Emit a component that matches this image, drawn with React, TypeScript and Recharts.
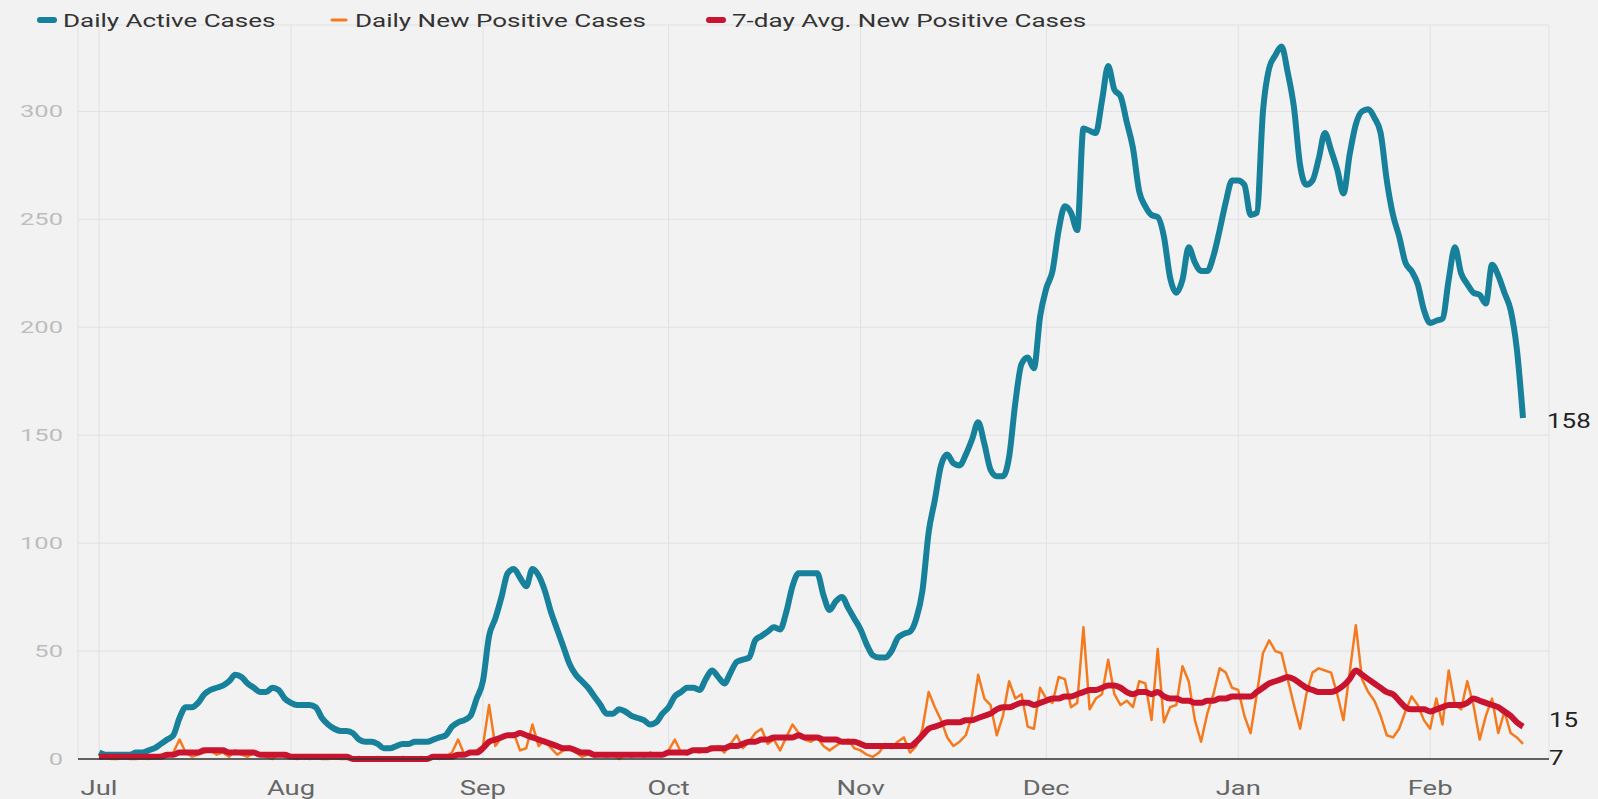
import React from 'react';
import { LineChart, Line, XAxis, YAxis, CartesianGrid, LabelList } from 'recharts';

// day 0 = Jul 1
const MONTH_TICKS = [0, 31, 62, 92, 123, 153, 184, 215];
const MONTH_LABELS = ['Jul', 'Aug', 'Sep', 'Oct', 'Nov', 'Dec', 'Jan', 'Feb'];
const Y_TICKS = [0, 50, 100, 150, 200, 250, 300];

const ACTIVE = [
  // Jul
  3, 2, 2, 2, 2, 2, 3, 3, 4, 5, 7, 9, 11, 19, 24, 24, 26, 30, 32, 33, 34, 36, 39, 38, 35, 33, 31, 31, 33, 32, 28,
  // Aug
  26, 25, 25, 25, 24, 19, 16, 14, 13, 13, 12, 9, 8, 8, 7, 5, 5, 6, 7, 7, 8, 8, 8, 9, 10, 11, 15, 17, 18, 20, 28,
  // Sep
  36, 57, 65, 75, 86, 88, 84, 80, 88, 85, 78, 68, 60, 52, 44, 39, 36, 33, 29, 25, 21, 21, 23, 22, 20, 19, 18, 16, 17, 21,
  // Oct
  24, 29, 31, 33, 33, 32, 37, 41, 38, 35, 40, 45, 46, 47, 55, 57, 59, 61, 60, 68, 80, 86, 86, 86, 86, 76, 69, 73, 75, 70, 65,
  // Nov
  60, 53, 48, 47, 47, 50, 56, 58, 59, 65, 78, 105, 120, 136, 141, 137, 136, 141, 148, 156, 146, 134, 131, 131, 140, 165, 183, 186, 181, 205,
  // Dec
  218, 226, 245, 256, 253, 245, 292, 291, 290, 305, 321, 310, 307, 295, 283, 263, 256, 252, 251, 242, 223, 216, 222, 237, 230, 226, 226, 233, 245, 258, 268,
  // Jan
  268, 266, 252, 253, 300, 320, 326, 330, 318, 302, 275, 266, 268, 278, 290, 282, 273, 262, 280, 294, 300, 301, 297, 290, 268, 252, 242, 230, 226, 220, 208,
  // Feb
  202, 203, 204, 222, 237, 225, 220, 216, 215, 211, 229, 224, 216, 208, 190, 158,
];

const NEW_POSITIVE = [
  0, 1, 0, 0, 1, 0, 0, 1, 0, 1, 2, 1, 3, 9, 3, 1, 2, 3, 4, 2, 3, 1, 4, 2, 1, 3, 2, 1, 0, 2, 1,
  1, 0, 1, 0, 1, 0, 0, 1, 0, 0, 0, 1, 0, 0, 1, 0, 0, 0, 1, 0, 0, 1, 0, 1, 0, 1, 3, 9, 2, 3, 4,
  6, 25, 6, 10, 11, 12, 4, 5, 16, 6, 9, 5, 2, 4, 6, 3, 1, 2, 1, 2, 1, 2, 0, 2, 1, 2, 1, 3, 2, 2,
  4, 9, 3, 2, 4, 3, 5, 4, 6, 3, 7, 11, 5, 8, 12, 14, 7, 9, 4, 10, 16, 12, 9, 8, 10, 6, 4, 6, 8, 9, 5,
  4, 2, 1, 3, 7, 5, 8, 10, 3, 6, 14, 31, 24, 18, 10, 6, 8, 11, 20, 39, 28, 25, 11, 20, 36, 28, 30, 15, 14, 33,
  28, 26, 38, 37, 24, 26, 61, 23, 28, 30, 46, 30, 25, 27, 24, 36, 35, 18, 51, 17, 24, 25, 43, 36, 18, 8, 21, 30, 42, 40, 33,
  32, 20, 12, 30, 49, 55, 50, 49, 37, 25, 14, 30, 40, 42, 41, 40, 30, 18, 40, 62, 37, 31, 27, 20, 11, 10, 14, 22, 29, 25, 18,
  14, 28, 16, 41, 25, 23, 36, 25, 9, 20, 28, 12, 22, 12, 10, 7,
];

const AVG_7DAY = [
  1, 1, 1, 1, 1, 1, 1, 1, 1, 1, 1, 2, 2, 3, 3, 3, 3, 4, 4, 4, 4, 3, 3, 3, 3, 3, 2, 2, 2, 2, 2,
  1, 1, 1, 1, 1, 1, 1, 1, 1, 1, 0, 0, 0, 0, 0, 0, 0, 0, 0, 0, 0, 0, 0, 1, 1, 1, 1, 2, 2, 3, 3,
  5, 8, 9, 10, 11, 11, 12, 11, 10, 9, 8, 7, 6, 5, 5, 4, 3, 3, 2, 2, 2, 2, 2, 2, 2, 2, 2, 2, 2, 2,
  3, 3, 3, 3, 4, 4, 4, 5, 5, 5, 6, 6, 7, 8, 8, 9, 9, 10, 10, 10, 10, 11, 10, 10, 10, 9, 9, 9, 8, 8, 8,
  7, 6, 6, 6, 6, 6, 6, 6, 6, 8, 11, 14, 15, 16, 17, 17, 17, 18, 18, 19, 20, 21, 23, 24, 24, 25, 26, 26, 25, 26,
  27, 28, 28, 29, 29, 30, 31, 32, 32, 33, 34, 34, 33, 31, 30, 31, 31, 30, 31, 29, 28, 28, 27, 27, 26, 26, 27, 27, 28, 28, 29,
  29, 29, 29, 31, 33, 35, 36, 37, 38, 37, 35, 33, 32, 31, 31, 31, 32, 34, 37, 41, 39, 37, 35, 33, 31, 30, 27, 24, 23, 23, 23,
  22, 23, 24, 25, 25, 25, 26, 28, 27, 26, 25, 24, 22, 20, 17, 15,
];

const data = ACTIVE.map((active, day) => ({
  day,
  active,
  newPos: NEW_POSITIVE[day],
  avg: AVG_7DAY[day],
}));

const TEAL = '#17809b';
const ORANGE = '#f47a1f';
const RED = '#c9142f';
const FONT = 'Roboto, sans-serif';

// the source screenshot is stretched sideways, so text is widened to match
const WideText = ({ x, y, size, fill, anchor = 'start', sx = 1.37, children }: any) => (
  <text
    transform={`translate(${x},${y}) scale(${sx},1)`}
    fontSize={size}
    fill={fill}
    textAnchor={anchor}
    fontFamily={FONT}
  >
    {children}
  </text>
);

const MonthTick = ({ x, y, payload }: any) => (
  <WideText x={x} y={y + 34} size={20} fill="#666" anchor="middle">
    {MONTH_LABELS[MONTH_TICKS.indexOf(payload.value)]}
  </WideText>
);

const ValueTick = ({ x, y, payload }: any) => (
  <WideText x={x} y={y + 6} size={17} fill="#bdbdbd" anchor="end" sx={1.5}>
    {payload.value}
  </WideText>
);

const endLabel = (dx: number, dy: number) => (props: any) => {
  const { x, y, index, value } = props;
  const last = index === data.length - 1 || (index === undefined && x > 1510);
  if (!last) return null;
  return (
    <WideText x={x + dx} y={y + dy} size={20} fill="#222" sx={1.3}>
      {value}
    </WideText>
  );
};

const LEGEND = [
  { label: 'Daily Active Cases', color: TEAL, x: 40, width: 6 },
  { label: 'Daily New Positive Cases', color: ORANGE, x: 332, width: 3 },
  { label: '7-day Avg. New Positive Cases', color: RED, x: 709, width: 6 },
];

export default function App() {
  return (
    <div style={{ position: 'absolute', left: 0, top: 0, width: 1598, height: 799, background: '#f2f2f2' }}>
      <LineChart width={1598} height={799} data={data} margin={{ top: 25, right: 49, bottom: 0, left: 0 }}>
        <CartesianGrid stroke="#e1e1e1" strokeWidth={1} />
        <XAxis
          type="number"
          dataKey="day"
          domain={[-3.4, 234.2]}
          ticks={MONTH_TICKS}
          tick={<MonthTick />}
          tickLine={false}
          tickSize={0}
          axisLine={{ stroke: '#333', strokeWidth: 1.5 }}
          height={40}
          allowDataOverflow
        />
        <YAxis
          domain={[0, 340]}
          ticks={Y_TICKS}
          tick={<ValueTick />}
          axisLine={false}
          tickLine={false}
          tickSize={0}
          tickMargin={15}
          width={78}
        />
        <Line type="monotone" dataKey="active" stroke={TEAL} strokeWidth={6} dot={false} strokeLinejoin="round" isAnimationActive={false}>
          <LabelList dataKey="active" content={endLabel(24, 10)} />
        </Line>
        <Line type="linear" dataKey="newPos" stroke={ORANGE} strokeWidth={2.5} dot={false} strokeLinejoin="round" isAnimationActive={false}>
          <LabelList dataKey="newPos" content={endLabel(26, 21)} />
        </Line>
        <Line type="monotone" dataKey="avg" stroke={RED} strokeWidth={6} dot={false} strokeLinejoin="round" isAnimationActive={false}>
          <LabelList dataKey="avg" content={endLabel(26, 0)} />
        </Line>
      </LineChart>
      <svg width={1200} height={40} style={{ position: 'absolute', left: 0, top: 0 }}>
        {LEGEND.map((item) => (
          <g key={item.label}>
            <line x1={item.x} x2={item.x + 14} y1={20} y2={20} stroke={item.color} strokeWidth={item.width} strokeLinecap="round" />
            <WideText x={item.x + 23} y={27} size={19} fill="#333">
              {item.label}
            </WideText>
          </g>
        ))}
      </svg>
    </div>
  );
}
